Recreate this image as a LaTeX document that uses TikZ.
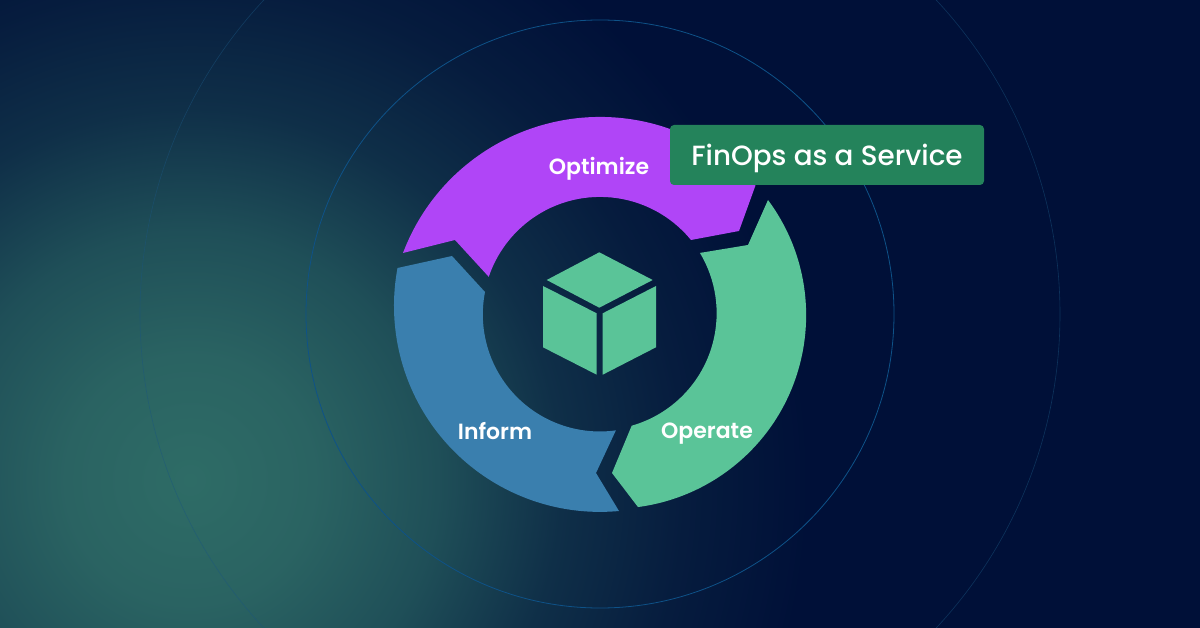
\documentclass[tikz,border=0pt]{standalone}
\usepackage{fontspec}
\setmainfont{Poppins}
\newfontfamily\semifont{Poppins SemiBold}
\newfontfamily\mediumfont{Poppins Medium}
\definecolor{navybg}{HTML}{001038}
\definecolor{glowa}{HTML}{2E6C66}
\definecolor{glowb}{HTML}{2A6362}
\definecolor{glowc}{HTML}{1F4F58}
\definecolor{glowd}{HTML}{0F2F48}
\definecolor{glowe}{HTML}{061C3E}
\definecolor{ringblue}{HTML}{0E5288}
\definecolor{ringfaint}{HTML}{1A5580}
\definecolor{optimizepurple}{HTML}{B045F7}
\definecolor{informblue}{HTML}{3A7FAE}
\definecolor{operategreen}{HTML}{5AC498}
\definecolor{labelgreen}{HTML}{24835B}
\pgfdeclareradialshading{bgglow}{\pgfpoint{0bp}{0bp}}{color(0bp)=(glowa); color(5bp)=(glowb); color(10bp)=(glowc); color(15bp)=(glowd); color(20bp)=(glowe); color(25bp)=(navybg); color(50bp)=(navybg)}

\begin{document}
\begin{tikzpicture}[x=1pt, y=-1pt,
                    main label/.style={text=white,font=\semifont\fontsize{22}{22}\selectfont},
                    service label/.style={fill=labelgreen,text=white,rounded corners=4pt,minimum width=314pt,minimum height=60pt,inner sep=0pt,text height=21pt,text depth=0pt,font=\mediumfont\fontsize{27.8}{27.8}\selectfont}]

  \useasboundingbox (0,0) rectangle (1200,628);
  \fill[navybg] (0,0) rectangle (1200,628);

  % glow in the lower left
  \begin{scope}
    \clip (0,0) rectangle (1200,628);
    \shade[shading=bgglow] (190,480) circle (620);
  \end{scope}

  % rings
  \draw[ringblue,line width=0.8pt] (600,314) circle (294);
  \draw[ringfaint,line width=0.6pt,opacity=0.5] (600,314) circle (460);

  % the three arrows
  \fill[optimizepurple] (403,253) arc[start angle=200.76,end angle=317.55,radius=210.7]
    -- (739,231) -- (691,240) arc[start angle=320.7,end angle=198.67,radius=117.5]
    -- (455,240) -- cycle;
  \fill[informblue] (397.5,268) -- (452,256) -- (485,292)
    arc[start angle=191.07,end angle=82.1,radius=117]
    -- (596,473) -- (619,511) arc[start angle=84.7,end angle=190.35,radius=206] -- cycle;
  \fill[operategreen] (768,200) arc[start angle=323.4,end angle=442.5,radius=193.4]
    -- (612,473) -- (631.7,425.7) arc[start angle=74.1,end angle=-31,radius=117]
    -- (748,245) -- cycle;

  % cube
  \fill[operategreen] (599.3,252.3) -- (652.7,280) -- (599.3,307.7) -- (546.7,280) -- cycle;
  \fill[operategreen] (543,286) -- (596.7,313.3) -- (596.7,374.7) -- (543,347.3) -- cycle;
  \fill[operategreen] (656,286) -- (602.7,313.3) -- (602.7,374.7) -- (656,347.3) -- cycle;

  \node[main label] (optimize) at (599,168.5) {Optimize};
  \node[main label] (inform) at (495,431) {Inform};
  \node[main label] (operate) at (707,433.5) {Operate};
  \node[service label] (service) at (827,155) {FinOps as a Service};

\end{tikzpicture}
\end{document}
